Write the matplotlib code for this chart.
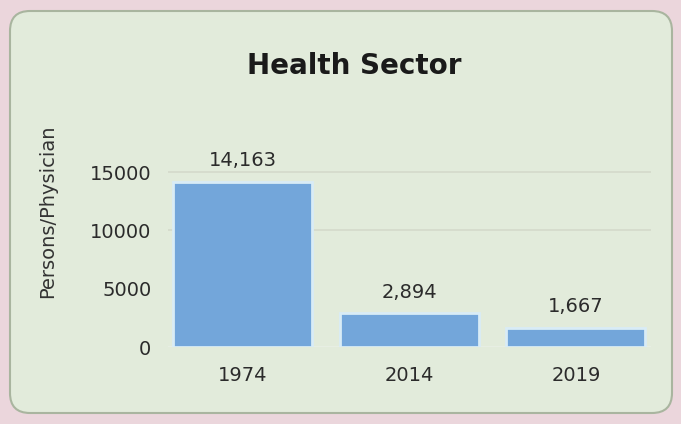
import matplotlib.pyplot as plt
from matplotlib.patches import FancyBboxPatch

years = ["1974", "2014", "2019"]
persons_per_physician = [14163, 2894, 1667]
y_ticks = [0, 5000, 10000, 15000]

page_color = "#ebd6dc"
panel_color = "#e2ebdb"
bar_color = "#73a6da"

fig = plt.figure(figsize=(6.81, 4.24), dpi=100, facecolor=page_color)

# rounded card behind the chart, drawn in pixel-like units
bg = fig.add_axes([0, 0, 1, 1])
bg.set_xlim(0, 681)
bg.set_ylim(0, 424)
bg.axis("off")
card = FancyBboxPatch((10, 11), 662, 402,
                      boxstyle="round,pad=0,rounding_size=20",
                      facecolor=panel_color, edgecolor="#a9b59f", linewidth=1.5)
bg.add_patch(card)

ax = fig.add_axes([0.2467, 0.1816, 0.709, 0.44])
ax.set_facecolor("none")

x = range(len(years))
bars = ax.bar(x, persons_per_physician, width=0.835, color=bar_color,
              edgecolor="#d9ecf6", linewidth=2, zorder=3)

for rect, val in zip(bars, persons_per_physician):
    ax.text(rect.get_x() + rect.get_width() / 2, val + 1000, "{:,}".format(val),
            ha="center", va="bottom", fontsize=14, color="#2b2b2b", zorder=4)

ax.set_xlim(-0.45, 2.45)
ax.set_ylim(0, 16000)
ax.set_xticks(list(x))
ax.set_xticklabels(years)
ax.set_yticks(y_ticks)
ax.tick_params(axis="both", length=0, labelsize=14, colors="#2b2b2b")
ax.tick_params(axis="y", pad=12)
ax.tick_params(axis="x", pad=14)

ax.yaxis.grid(True, color="#d4dacb", linewidth=1.2, zorder=0)
for level, line in zip(y_ticks, ax.yaxis.get_gridlines()):
    if level < 10000:
        line.set_visible(False)
ax.axhline(0, color="#e8efe4", linewidth=2, zorder=2)

for spine in ax.spines.values():
    spine.set_visible(False)

fig.text(354 / 681, 1 - 66 / 424, "Health Sector", ha="center", va="center",
         fontsize=20, fontweight="bold", color="#1a1a1a")
fig.text(48 / 681, 1 - 211 / 424, "Persons/Physician", ha="center", va="center",
         rotation=90, fontsize=14, color="#333333")

fig.savefig("out.png", dpi=100, facecolor=page_color)
